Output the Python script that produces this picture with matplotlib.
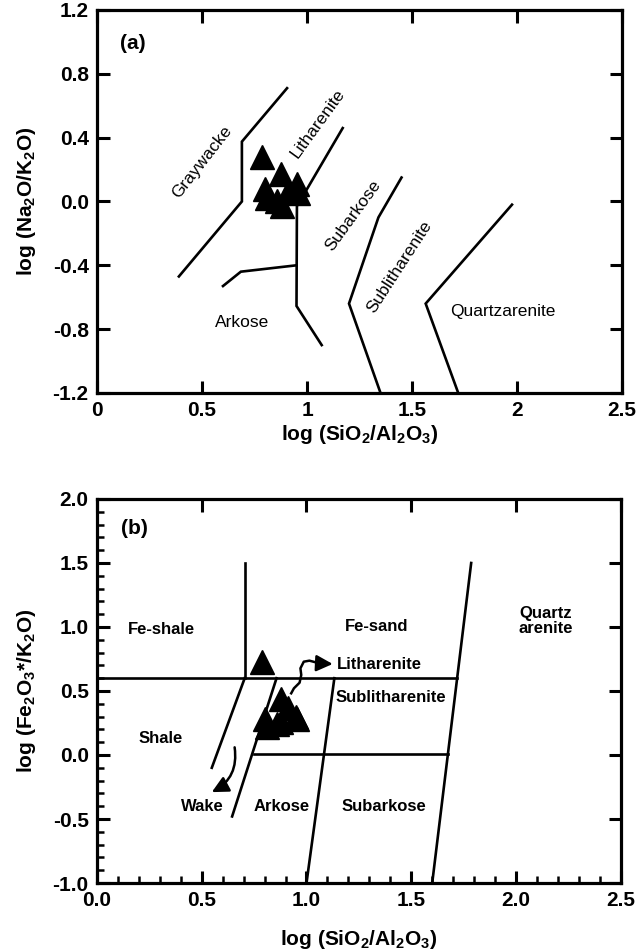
import matplotlib
matplotlib.use("Agg")
import matplotlib.pyplot as plt
from matplotlib.ticker import MultipleLocator, FixedLocator

plt.rcParams['font.family'] = ['Liberation Sans', 'DejaVu Sans']
plt.rcParams['mathtext.fontset'] = 'custom'
plt.rcParams['mathtext.rm'] = 'Liberation Sans:bold'
plt.rcParams['mathtext.default'] = 'rm'
plt.rcParams['axes.unicode_minus'] = False

# sample ratios (log values)
sio2_al2o3 = [0.786, 0.80, 0.81, 0.857, 0.876, 0.88, 0.91, 0.952, 0.957]
na2o_k2o = [0.28, 0.08, 0.02, 0.00, 0.175, -0.03, 0.06, 0.11, 0.05]
fe2o3_k2o = [0.73, 0.28, 0.22, 0.24, 0.44, 0.26, 0.37, 0.30, 0.28]

# Pettijohn et al. classification boundaries (a)
gw_lith_x = [0.39, 0.69, 0.69, 0.905]
gw_lith_y = [-0.47, 0.0, 0.375, 0.71]
ark_top_x = [0.60, 0.685, 0.95]
ark_top_y = [-0.53, -0.44, -0.40]
lith_sub_x = [1.17, 0.952, 0.95, 1.07]
lith_sub_y = [0.46, -0.03, -0.655, -0.90]
subark_x = [1.45, 1.34, 1.20, 1.35]
subark_y = [0.15, -0.10, -0.64, -1.2]
sublith_x = [1.976, 1.565, 1.72]
sublith_y = [-0.02, -0.64, -1.2]
labels_a = [("Graywacke", 0.50, 0.25, 52), ("Litharenite", 1.05, 0.49, 54),
            ("Subarkose", 1.22, -0.09, 54), ("Sublitharenite", 1.44, -0.41, 57),
            ("Arkose", 0.69, -0.756, 0), ("Quartzarenite", 1.93, -0.69, 0)]

# Herron (1988) boundaries (b)
herron_lines = [
    ([0.705, 0.705], [1.5, 0.6]),
    ([0.0, 1.72], [0.6, 0.6]),
    ([0.75, 1.675], [0.01, 0.01]),
    ([1.786, 1.60], [1.5, -1.0]),
    ([1.133, 1.0], [0.6, -1.0]),
    ([0.705, 0.548], [0.6, -0.10]),
    ([0.857, 0.645], [0.6, -0.48]),
]
labels_b = [("Fe-shale", 0.31, 0.98, 'center'), ("Fe-sand", 1.335, 1.0, 'center'),
            ("Quartz\narenite", 2.14, 1.05, 'center'), ("Litharenite", 1.145, 0.71, 'left'),
            ("Sublitharenite", 1.14, 0.45, 'left'), ("Shale", 0.305, 0.13, 'center'),
            ("Wake", 0.505, -0.40, 'center'), ("Arkose", 0.88, -0.40, 'center'),
            ("Subarkose", 1.37, -0.40, 'center')]
lith_arrow_x = [0.927, 0.940, 0.967, 0.975, 0.971, 0.987, 1.014, 1.062]
lith_arrow_y = [0.482, 0.521, 0.565, 0.625, 0.677, 0.729, 0.737, 0.716]
lith_arrow_tip = (1.125, 0.711)
wake_arrow = ((0.657, 0.06), (0.548, -0.29))

lw = 1.9
head = '-|>,head_length=0.9,head_width=0.45'
fig = plt.figure(figsize=(6.38, 9.51), dpi=100)
ax1 = fig.add_axes([0.152, 0.5868, 0.823, 0.4027])
ax2 = fig.add_axes([0.152, 0.0715, 0.821, 0.4038])

for ax in (ax1, ax2):
    for s in ax.spines.values():
        s.set_linewidth(2.3)
    ax.tick_params(which='major', direction='in', length=9, width=2.2,
                   top=True, right=True, labelsize=15, pad=6)

# ---- (a)
ax1.set_xlim(0, 2.5)
ax1.set_ylim(-1.2, 1.2)
ax1.xaxis.set_major_locator(FixedLocator([0, 0.5, 1, 1.5, 2, 2.5]))
ax1.set_xticklabels(["0", "0.5", "1", "1.5", "2", "2.5"], fontweight='bold')
yt = [-1.2, -0.8, -0.4, 0.0, 0.4, 0.8, 1.2]
ax1.yaxis.set_major_locator(FixedLocator(yt))
ax1.set_yticklabels(["%.1f" % v for v in yt], fontweight='bold')
for xs, ys in [(gw_lith_x, gw_lith_y), (ark_top_x, ark_top_y), (lith_sub_x, lith_sub_y),
               (subark_x, subark_y), (sublith_x, sublith_y)]:
    ax1.plot(xs, ys, color='k', lw=lw, solid_joinstyle='miter')
for txt, x, y, rot in labels_a:
    ax1.text(x, y, txt, fontsize=12.5, rotation=rot, ha='center', va='center')
ax1.plot(sio2_al2o3, na2o_k2o, '^', color='k', ms=17, mec='k', zorder=5)
ax1.text(0.17, 0.99, "(a)", fontsize=15, fontweight='bold', ha='center', va='center')
ax1.set_xlabel("log (SiO$_2$/Al$_2$O$_3$)", fontsize=15, fontweight='bold', va='center')
ax1.xaxis.set_label_coords(0.5, -0.108)
ax1.set_ylabel("log (Na$_2$O/K$_2$O)", fontsize=15, fontweight='bold', va='center')
ax1.yaxis.set_label_coords(-0.135, 0.5)

# ---- (b)
ax2.set_xlim(0, 2.5)
ax2.set_ylim(-1.0, 2.0)
ax2.xaxis.set_major_locator(MultipleLocator(0.5))
ax2.yaxis.set_major_locator(MultipleLocator(0.5))
ax2.xaxis.set_minor_locator(MultipleLocator(0.1))
ax2.yaxis.set_minor_locator(MultipleLocator(0.1))
ax2.tick_params(which='minor', direction='in', length=5, width=1.8, top=False, right=False)
ax2.xaxis.set_major_formatter(plt.FormatStrFormatter('%.1f'))
ax2.yaxis.set_major_formatter(plt.FormatStrFormatter('%.1f'))
for t in ax2.get_xticklabels() + ax2.get_yticklabels():
    t.set_fontweight('bold')
for xs, ys in herron_lines:
    ax2.plot(xs, ys, color='k', lw=lw)
for txt, x, y, ha in labels_b:
    ax2.text(x, y, txt, fontsize=12, fontweight='bold', ha=ha, va='center',
             linespacing=1.0)
ax2.plot(sio2_al2o3, fe2o3_k2o, '^', color='k', ms=17, mec='k', zorder=5)
ax2.plot(lith_arrow_x, lith_arrow_y, color='k', lw=1.8)
ax2.annotate("", xy=lith_arrow_tip, xytext=(lith_arrow_x[-1], lith_arrow_y[-1]),
             arrowprops=dict(arrowstyle=head, mutation_scale=11,
                             color='k', lw=1.8, shrinkA=0, shrinkB=0))
ax2.annotate("", xy=wake_arrow[1], xytext=wake_arrow[0],
             arrowprops=dict(arrowstyle=head, mutation_scale=11,
                             color='k', lw=1.8, shrinkA=0, shrinkB=0,
                             connectionstyle='arc3,rad=-0.35'))
ax2.text(0.18, 1.77, "(b)", fontsize=15, fontweight='bold', ha='center', va='center')
ax2.set_xlabel("log (SiO$_2$/Al$_2$O$_3$)", fontsize=15, fontweight='bold', va='center')
ax2.xaxis.set_label_coords(0.5, -0.148)
ax2.set_ylabel("log (Fe$_2$O$_3$*/K$_2$O)", fontsize=15, fontweight='bold', va='center')
ax2.yaxis.set_label_coords(-0.135, 0.5)

fig.savefig("out.png", dpi=100)
